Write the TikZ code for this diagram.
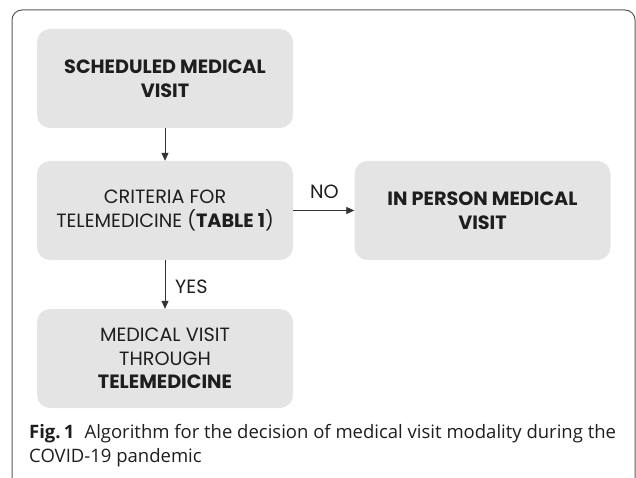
\documentclass[tikz,border=0pt]{standalone}
\usepackage{fontspec}
\setmainfont{Open Sans}
\newfontfamily\gothic{Poppins}
\usetikzlibrary{arrows.meta,positioning}
\definecolor{boxgray}{HTML}{E4E4E4}
\definecolor{inkgray}{HTML}{1E1E1E}

\begin{document}
\begin{tikzpicture}[
  x=1pt, y=-1pt,
  every node/.style={text=inkgray},
  stepbox/.style={fill=boxgray, rounded corners=13pt, minimum width=256pt, minimum height=99pt,
    inner sep=0pt, align=center, font=\gothic\fontsize{19.2}{23.5}\selectfont},
  flow/.style={-{Triangle[length=8pt,width=7pt]}, line width=0.8pt, draw=black!80},
  lbl/.style={font=\gothic\fontsize{19.2}{23.5}\selectfont, inner sep=0pt},
]
  \useasboundingbox (0,0) rectangle (636,478);

  % frame of the figure
  \draw[black!65, line width=1pt, rounded corners=10pt] (12,481) -- (12,10) -- (635,10) -- (635,481);

  \node[stepbox] (sched) at (165,78.5) {\bfseries SCHEDULED MEDICAL\\\bfseries VISIT};
  \node[stepbox] (crit) at (165,210.5) {CRITERIA FOR\\TELEMEDICINE (\textbf{TABLE 1})};
  \node[stepbox] (inperson) at (482.5,210.5) {\bfseries IN PERSON MEDICAL\\\bfseries VISIT};
  \node[stepbox] (tele) at (165,358.5) {MEDICAL VISIT\\THROUGH\\\textbf{TELEMEDICINE}};

  \draw[flow] (sched) -- (crit);
  \draw[flow] (crit) -- (inperson);
  \draw[flow] (crit) -- (tele);

  \node[lbl, anchor=base] (no) at (324.5,199) {NO};
  \node[lbl, anchor=base west] (yes) at (175,293) {YES};

  \node[anchor=base west, align=left, inner sep=0pt, font=\fontsize{18.5}{24}\selectfont] (caption) at (29,462)
    {\textbf{Fig.\,1}\hspace{0.55em}Algorithm for the decision of medical visit modality during the\\COVID-19 pandemic};
\end{tikzpicture}
\end{document}
